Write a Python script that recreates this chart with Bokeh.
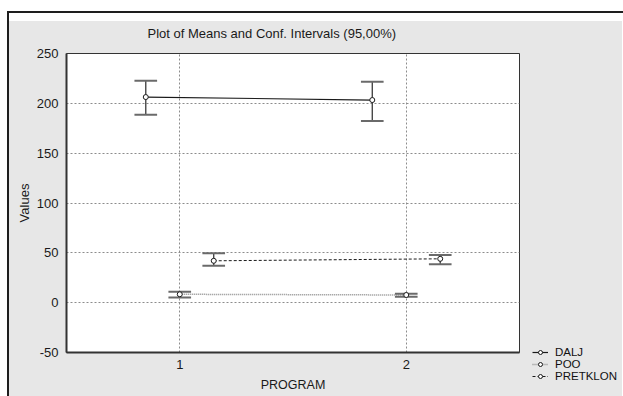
from bokeh.plotting import figure
from bokeh.models import Legend, LegendItem, FixedTicker, Range1d
from bokeh.embed import file_html
from bokeh.resources import INLINE

# ---- data ----
programs = [1, 2]
series = ["DALJ", "POO", "PRETKLON"]
dalj_mean = [206.3, 203.3]
dalj_lo = [188.6, 182.3]
dalj_hi = [222.6, 221.6]
poo_mean = [8.4, 7.7]
poo_lo = [5.3, 6.0]
poo_hi = [11.0, 8.9]
pret_mean = [42.0, 44.0]
pret_lo = [37.0, 38.6]
pret_hi = [49.6, 47.8]
y_ticks = [-50, 0, 50, 100, 150, 200, 250]
x_ticks = [1, 2]
title_text = "Plot of Means and Conf. Intervals (95,00%)"

FONT = "Liberation Sans"
BG = "#e7e7e7"

frame_css = """
:host::before {
  content: ""; position: absolute; left: 0; top: 0; width: 623px; height: 396px;
  box-sizing: border-box; border-top: 11px solid #ffffff; border-left: 7px solid #ffffff;
  border-right: 1px solid #ffffff;
  z-index: 50; pointer-events: none;
}
:host::after {
  content: ""; position: absolute; left: 7px; top: 11px; width: 616px; height: 385px;
  box-sizing: border-box; border-top: 2px solid #1e1e1e; border-left: 2px solid #1e1e1e;
  box-shadow: inset 0 8px 0 0 #ffffff; z-index: 51; pointer-events: none;
}
"""

p = figure(frame_width=453, frame_height=299,
           min_border_left=66, min_border_right=104,
           min_border_top=53, min_border_bottom=44,
           x_range=Range1d(0.5, 2.5), y_range=Range1d(-50, 250),
           output_backend="svg", toolbar_location=None,
           border_fill_color=BG, background_fill_color="white",
           outline_line_color="#333333", outline_line_width=1,
           title=title_text, stylesheets=[frame_css])

p.title.align = "left"
p.title.offset = 81
p.title.text_font = FONT
p.title.text_font_size = "13px"
p.title.text_font_style = "normal"
p.title.text_color = "#1a1a1a"
p.title.standoff = 25

# grid
for g in (p.xgrid, p.ygrid):
    g.grid_line_color = "#8c8c8c"
    g.grid_line_dash = "2 2"
    g.grid_line_width = 1
p.xaxis.ticker = FixedTicker(ticks=x_ticks)
p.yaxis.ticker = FixedTicker(ticks=y_ticks)
p.xgrid.ticker = FixedTicker(ticks=x_ticks)
p.ygrid.ticker = FixedTicker(ticks=y_ticks)
p.yaxis.major_label_overrides = {-50: "-50"}

for ax in (p.xaxis, p.yaxis):
    ax.axis_line_color = "#333333"
    ax.axis_line_width = 2
    ax.major_tick_line_color = None
    ax.minor_tick_line_color = None
    ax.major_label_text_font = FONT
    ax.major_label_text_font_size = "13px"
    ax.major_label_text_color = "#1a1a1a"
    ax.axis_label_text_font = FONT
    ax.axis_label_text_font_size = "13px"
    ax.axis_label_text_font_style = "normal"
    ax.axis_label_text_color = "#1a1a1a"
p.xaxis.axis_label_text_font_size = "12.5px"
p.yaxis.axis_label = "Values"
p.xaxis.axis_label = "PROGRAM"
p.yaxis.major_label_standoff = 2
p.xaxis.major_label_standoff = 1
p.yaxis.axis_label_standoff = 2
p.xaxis.axis_label_standoff = 6

specs = [
    ("DALJ", -0.15, dalj_mean, dalj_lo, dalj_hi, "#1a1a1a", None, 1.2),
    ("POO", 0.0, poo_mean, poo_lo, poo_hi, "#8a8a8a", "1 1", 1.5),
    ("PRETKLON", 0.15, pret_mean, pret_lo, pret_hi, "#1a1a1a", "3 2", 1.0),
]
items = []
cap = 0.05
for name, off, mean, lo, hi, lc, dash, lw in specs:
    xs = [x + off for x in programs]
    kw = dict(line_color=lc, line_width=lw)
    if dash:
        kw["line_dash"] = dash
    lr = p.line(xs, mean, **kw)
    p.segment(x0=xs, y0=lo, x1=xs, y1=hi, line_color="#3a3a3a", line_width=1.3)
    p.segment(x0=[x - cap for x in xs], y0=hi, x1=[x + cap for x in xs], y1=hi,
              line_color="#6a6a6a", line_width=2)
    p.segment(x0=[x - cap for x in xs], y0=lo, x1=[x + cap for x in xs], y1=lo,
              line_color="#6a6a6a", line_width=2)
    cr = p.scatter(xs, mean, marker="circle", size=5, fill_color="white",
                   line_color="#1a1a1a", line_width=1)
    items.append(LegendItem(label=name, renderers=[lr, cr]))

legend = Legend(items=items, location=(13, -30), padding=0, margin=0,
                border_line_color=None, background_fill_alpha=0,
                glyph_width=16, glyph_height=10, label_height=10,
                label_standoff=7, spacing=0,
                label_text_font=FONT, label_text_font_size="11.5px",
                label_text_line_height=1.0,
                label_text_color="#111111")
p.add_layout(legend, "right")

open("out.html", "w").write(file_html(p, INLINE))
